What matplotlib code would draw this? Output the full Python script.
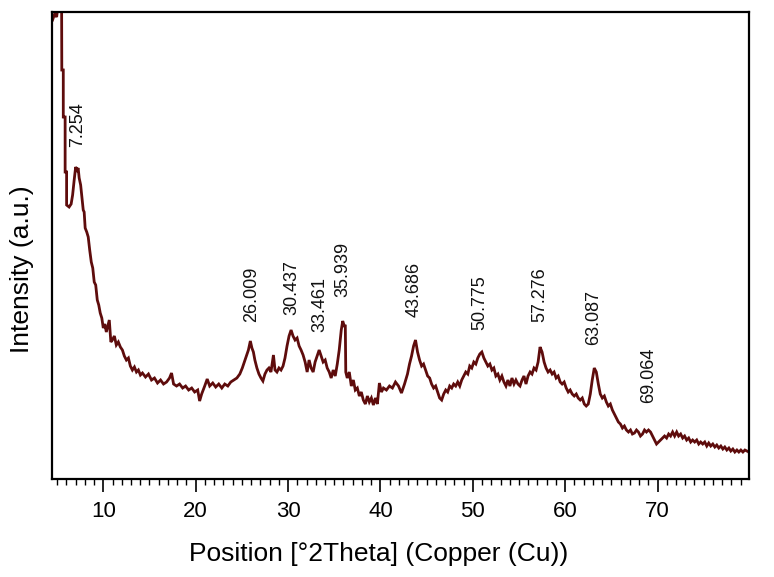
import numpy as np
import matplotlib
matplotlib.use('Agg')
import matplotlib.pyplot as plt
from matplotlib.ticker import MultipleLocator

plt.rcParams['font.family'] = ['Liberation Sans', 'DejaVu Sans']

# XRD pattern (2theta in degrees, intensity in a.u.)
two_theta = [4.51, 4.73, 4.95, 5.11, 5.49, 5.51, 5.67, 5.67, 5.87, 5.87, 6.03, 6.03,
             6.30, 6.52, 6.68, 6.85, 7.01, 7.17, 7.28, 7.39, 7.55, 7.68, 7.83, 7.93,
             8.04, 8.21, 8.37, 8.53, 8.70, 8.86, 9.02, 9.18, 9.35, 9.51, 9.67, 9.84,
             10.00, 10.16, 10.33, 10.49, 10.65, 10.82, 10.98, 11.20, 11.41, 11.63, 11.85, 12.07,
             12.28, 12.50, 12.72, 12.93, 13.15, 13.37, 13.59, 13.80, 14.02, 14.24, 14.57, 14.89,
             15.22, 15.54, 15.87, 16.20, 16.52, 16.85, 17.17, 17.39, 17.61, 17.93, 18.26, 18.59,
             18.91, 19.24, 19.57, 19.89, 20.22, 20.43, 20.65, 20.98, 21.25, 21.52, 21.85, 22.17,
             22.50, 22.83, 23.15, 23.48, 23.80, 24.13, 24.46, 24.78, 25.05, 25.27, 25.49, 25.71,
             25.92, 26.09, 26.25, 26.41, 26.63, 26.85, 27.07, 27.28, 27.50, 27.72, 27.93, 28.15,
             28.42, 28.59, 28.80, 29.02, 29.24, 29.46, 29.67, 29.89, 30.11, 30.33, 30.54, 30.76,
             30.98, 31.20, 31.41, 31.63, 31.85, 32.07, 32.28, 32.50, 32.72, 32.93, 33.15, 33.37,
             33.59, 33.80, 34.02, 34.24, 34.46, 34.67, 34.89, 35.11, 35.33, 35.54, 35.76, 35.92,
             36.09, 36.20, 36.25, 36.41, 36.63, 36.85, 37.07, 37.28, 37.50, 37.72, 37.93, 38.15,
             38.37, 38.59, 38.80, 39.02, 39.24, 39.46, 39.67, 39.89, 40.11, 40.33, 40.65, 40.98,
             41.30, 41.63, 41.96, 42.28, 42.61, 42.93, 43.15, 43.37, 43.59, 43.80, 44.02, 44.24,
             44.46, 44.67, 44.89, 45.11, 45.33, 45.54, 45.76, 45.98, 46.20, 46.41, 46.63, 46.85,
             47.07, 47.28, 47.50, 47.72, 47.93, 48.15, 48.37, 48.59, 48.80, 49.02, 49.24, 49.46,
             49.67, 49.89, 50.11, 50.33, 50.54, 50.76, 50.98, 51.20, 51.41, 51.63, 51.85, 52.07,
             52.28, 52.50, 52.72, 52.93, 53.15, 53.37, 53.59, 53.80, 54.02, 54.24, 54.46, 54.67,
             54.89, 55.11, 55.33, 55.54, 55.76, 55.98, 56.20, 56.41, 56.63, 56.85, 57.07, 57.28,
             57.50, 57.72, 57.93, 58.15, 58.37, 58.59, 58.80, 59.02, 59.24, 59.46, 59.67, 59.89,
             60.11, 60.33, 60.54, 60.76, 60.98, 61.20, 61.41, 61.63, 61.85, 62.07, 62.28, 62.50,
             62.72, 62.93, 63.15, 63.37, 63.59, 63.80, 64.02, 64.24, 64.46, 64.67, 64.89, 65.11,
             65.33, 65.54, 65.76, 65.98, 66.20, 66.41, 66.63, 66.85, 67.07, 67.28, 67.50, 67.72,
             67.93, 68.15, 68.37, 68.59, 68.80, 69.02, 69.24, 69.46, 69.67, 69.89, 70.11, 70.33,
             70.54, 70.76, 70.98, 71.20, 71.41, 71.63, 71.85, 72.07, 72.28, 72.50, 72.72, 72.93,
             73.15, 73.37, 73.59, 73.80, 74.02, 74.24, 74.46, 74.67, 74.89, 75.11, 75.33, 75.54,
             75.76, 75.98, 76.20, 76.41, 76.63, 76.85, 77.07, 77.28, 77.50, 77.72, 77.93, 78.15,
             78.37, 78.59, 78.80, 79.02, 79.24, 79.46, 79.67, 79.89, 80.11]

intensity = [459, 465, 462, 474, 474, 409, 409, 362, 362, 307, 307, 274,
             272, 275, 284, 299, 312, 309, 311, 301, 294, 282, 269, 267,
             251, 247, 242, 229, 217, 211, 197, 194, 179, 174, 166, 161,
             151, 155, 147, 153, 159, 137, 139, 143, 134, 137, 132, 129,
             123, 119, 121, 113, 109, 112, 107, 109, 104, 106, 102, 105,
             99, 101, 96, 99, 95, 97, 101, 106, 95, 93, 95, 91,
             93, 89, 91, 87, 89, 78, 85, 93, 100, 93, 96, 92,
             95, 91, 95, 93, 97, 99, 101, 105, 111, 117, 123, 129,
             138, 131, 127, 119, 111, 105, 101, 98, 105, 109, 111, 107,
             124, 109, 107, 111, 109, 113, 121, 133, 143, 149, 143, 139,
             141, 133, 129, 124, 117, 107, 119, 111, 107, 117, 123, 129,
             123, 117, 119, 111, 107, 101, 109, 103, 115, 129, 149, 158,
             153, 153, 107, 101, 107, 93, 99, 89, 91, 83, 87, 79,
             75, 83, 77, 81, 74, 81, 75, 96, 87, 91, 89, 93,
             91, 97, 93, 86, 95, 105, 115, 123, 133, 139, 127, 119,
             113, 115, 109, 103, 101, 95, 91, 93, 87, 81, 79, 85,
             89, 87, 93, 91, 95, 93, 97, 93, 99, 103, 107, 105,
             113, 111, 117, 115, 121, 125, 127, 121, 117, 113, 115, 109,
             111, 103, 105, 99, 103, 97, 93, 99, 93, 101, 95, 99,
             95, 93, 99, 103, 95, 103, 107, 105, 111, 109, 117, 132,
             127, 117, 111, 107, 109, 105, 107, 101, 103, 97, 95, 97,
             91, 87, 89, 85, 83, 85, 81, 79, 81, 75, 73, 75,
             85, 99, 111, 107, 95, 85, 81, 83, 77, 73, 75, 69,
             65, 61, 57, 55, 51, 53, 49, 47, 49, 45, 46, 49,
             47, 43, 45, 49, 47, 49, 47, 43, 39, 35, 37, 39,
             41, 43, 41, 45, 43, 47, 43, 47, 43, 45, 41, 43,
             39, 41, 37, 39, 37, 39, 35, 37, 35, 37, 33, 36,
             33, 35, 32, 34, 31, 33, 30, 32, 29, 31, 28, 30,
             27, 29, 27, 29, 27, 29, 28, 27, 21]

peak_labels = [7.254, 26.009, 30.437, 33.461, 35.939, 43.686, 50.775, 57.276, 63.087, 69.064]
label_heights = [332, 157, 164, 147, 182, 162, 149, 157, 134, 76]

fig = plt.figure(figsize=(7.74, 5.77), dpi=100)
ax = fig.add_axes([0.0672, 0.1698, 0.9005, 0.8094])

ax.plot(two_theta, intensity, color='#5e0c0c', lw=2.0, solid_joinstyle='miter')

for pos, h in zip(peak_labels, label_heights):
    ax.text(pos, h, '%.3f' % pos, rotation=90, ha='center', va='bottom',
            fontsize=13, color='#111111')

ax.set_xlim(4.45, 79.9)
ax.set_ylim(0, 467)
ax.xaxis.set_major_locator(MultipleLocator(10))
ax.xaxis.set_minor_locator(MultipleLocator(1))
ax.tick_params(axis='x', which='major', direction='out', length=9, width=1.2,
               labelsize=16, pad=7)
ax.tick_params(axis='x', which='minor', direction='out', length=4, width=1.0)
ax.set_yticks([])
for s in ax.spines.values():
    s.set_linewidth(1.6)

ax.set_xlabel('Position [°2Theta] (Copper (Cu))', fontsize=19)
ax.xaxis.set_label_coords(0.469, -0.135)
ax.set_ylabel('Intensity (a.u.)', fontsize=19)
ax.yaxis.set_label_coords(-0.026, 0.45)

fig.savefig('out.png', dpi=100)
